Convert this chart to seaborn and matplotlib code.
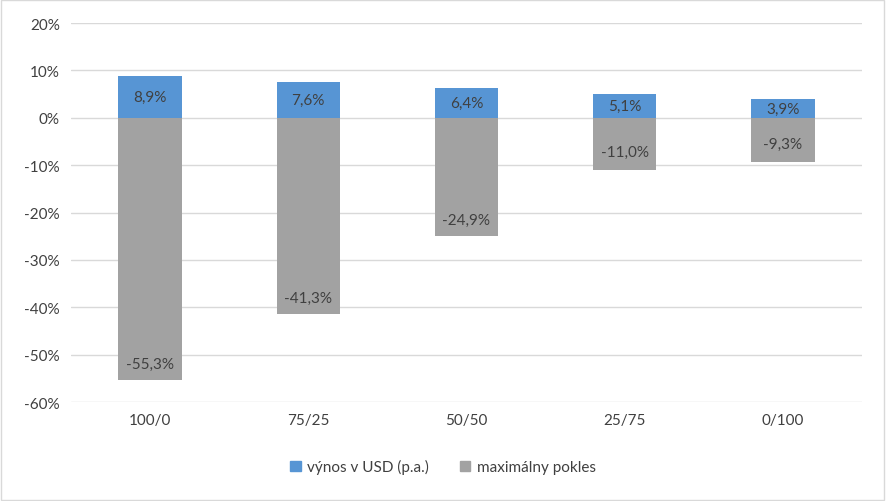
import pandas as pd
import matplotlib.pyplot as plt
import seaborn as sns
from matplotlib.patches import Patch

# Data
portfolios = ["100/0", "75/25", "50/50", "25/75", "0/100"]
returns = [8.9, 7.6, 6.4, 5.1, 3.9]
drawdowns = [-55.3, -41.3, -24.9, -11.0, -9.3]

df = pd.DataFrame({"Portfolio": portfolios, "Return": returns, "Drawdown": drawdowns})

sns.set_theme(style="white")
plt.rcParams["font.family"] = ["Lato", "DejaVu Sans"]
text_col = "#404040"
blue = "#5795D4"
gray = "#A2A2A2"

fig = plt.figure(figsize=(8.86, 5.02), dpi=100)
ax = fig.add_axes([0.080, 0.197, 0.893, 0.755])

sns.barplot(data=df, x="Portfolio", y="Drawdown", color=gray, width=0.4,
            saturation=1, linewidth=0, ax=ax, zorder=3)
sns.barplot(data=df, x="Portfolio", y="Return", color=blue, width=0.4,
            saturation=1, linewidth=0, ax=ax, zorder=3)

# data labels
for i, (r, d) in enumerate(zip(returns, drawdowns)):
    ax.text(i, r / 2, f"{r:.1f}%".replace(".", ","), ha="center", va="center",
            fontsize=11, color=text_col, zorder=4)
    ax.text(i, d + 3.3 if d < -20 else d + 3.8, f"{d:.1f}%".replace(".", ","),
            ha="center", va="center", fontsize=11, color=text_col, zorder=4)

ax.set_ylim(-60, 20)
ax.set_yticks(range(-60, 21, 10))
ax.set_yticklabels([f"{v}%" for v in range(-60, 21, 10)])
ax.set_xlim(-0.5, 4.5)
ax.set_xlabel("")
ax.set_ylabel("")
ax.grid(axis="y", color="#D9D9D9", linewidth=1, zorder=0)
for s in ax.spines.values():
    s.set_visible(False)
ax.tick_params(axis="both", colors=text_col, labelsize=11, length=0, pad=8)
for lbl in ax.get_xticklabels() + ax.get_yticklabels():
    lbl.set_color(text_col)

handles = [Patch(color=blue, label="výnos v USD (p.a.)"),
           Patch(color=gray, label="maximálny pokles")]
fig.legend(handles=handles, loc="center", bbox_to_anchor=(0.5, 0.068), ncol=2,
           frameon=False, fontsize=11, handlelength=0.7, handleheight=0.7,
           handletextpad=0.4, columnspacing=2.0, labelcolor=text_col)

# outer border
fig.patches.append(plt.Rectangle((0.001, 0.001), 0.997, 0.997, transform=fig.transFigure,
                                 fill=False, edgecolor="#D9D9D9", linewidth=1))

fig.savefig("out.png", dpi=100)
